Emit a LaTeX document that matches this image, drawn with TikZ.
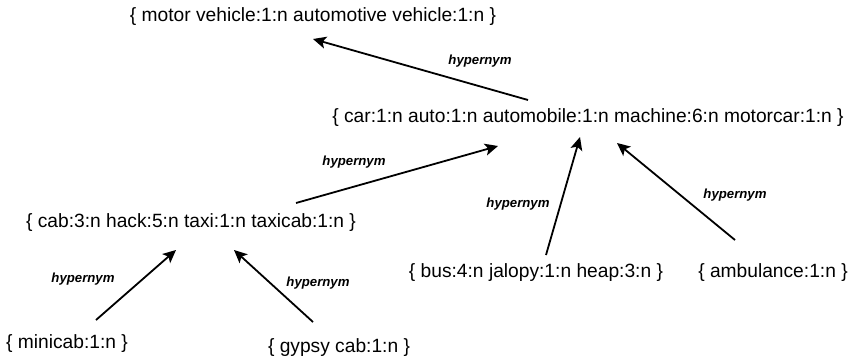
\documentclass[tikz,border=0pt]{standalone}
\usepackage{fontspec}
\setmainfont{Liberation Sans}
\usetikzlibrary{arrows.meta}
\begin{document}
\begin{tikzpicture}[x=1pt,y=-1pt,
  syn/.style={inner sep=0pt,font=\fontsize{19.2}{22}\selectfont},
  rel/.style={inner sep=0pt,font=\fontsize{13.2}{15}\selectfont\bfseries\itshape},
  hyp/.style={line width=1.8pt,-{Stealth[length=13pt,width=12pt,inset=3pt]}}]
\useasboundingbox (0,0) rectangle (852,362);
\node[syn] (mv) at (313,17) {\{ motor vehicle:1:n automotive vehicle:1:n \}};
\node[syn] (car) at (588,118) {\{ car:1:n auto:1:n automobile:1:n machine:6:n motorcar:1:n \}};
\node[syn] (cab) at (191,223) {\{ cab:3:n hack:5:n taxi:1:n taxicab:1:n \}};
\node[syn] (bus) at (536,273) {\{ bus:4:n jalopy:1:n heap:3:n \}};
\node[syn] (amb) at (773,273) {\{ ambulance:1:n \}};
\node[syn] (mini) at (67,344) {\{ minicab:1:n \}};
\node[syn] (gyp) at (339,348) {\{ gypsy cab:1:n \}};
\coordinate (mvS) at (528,100); \coordinate (mvE) at (313,39);
\coordinate (cabS) at (296,203); \coordinate (cabE) at (498,146);
\coordinate (busS) at (546,255); \coordinate (busE) at (580,137);
\coordinate (ambS) at (735,240); \coordinate (ambE) at (617,143);
\coordinate (miniS) at (96,320); \coordinate (miniE) at (176,250);
\coordinate (gypS) at (313,322); \coordinate (gypE) at (234,250);
\draw[hyp] (mvS) -- (mvE);
\draw[hyp] (cabS) -- (cabE);
\draw[hyp] (busS) -- (busE);
\draw[hyp] (ambS) -- (ambE);
\draw[hyp] (miniS) -- (miniE);
\draw[hyp] (gypS) -- (gypE);
\node[rel] (l1) at (480,61) {hypernym};
\node[rel] (l2) at (354,162) {hypernym};
\node[rel] (l3) at (518,204) {hypernym};
\node[rel] (l4) at (735,195) {hypernym};
\node[rel] (l5) at (83,279) {hypernym};
\node[rel] (l6) at (318,283) {hypernym};
\end{tikzpicture}
\end{document}
